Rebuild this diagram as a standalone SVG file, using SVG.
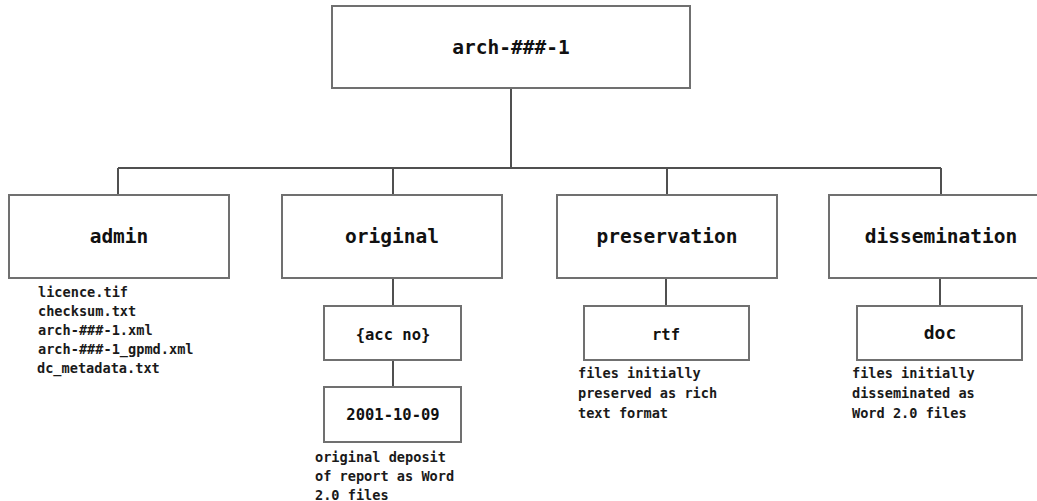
<svg xmlns="http://www.w3.org/2000/svg" width="1037" height="501" viewBox="0 0 1037 501">
  <style>
    .box { fill: #ffffff; stroke: #707070; stroke-width: 2; }
    .wire { stroke: #505050; stroke-width: 2; fill: none; }
    .title { font-family: "DejaVu Sans Mono", "Liberation Mono", monospace; font-weight: bold; font-size: 19.5px; fill: #111; text-anchor: middle; }
    .sub { font-family: "DejaVu Sans Mono", "Liberation Mono", monospace; font-weight: bold; font-size: 15.5px; fill: #111; text-anchor: middle; }
    .note { font-family: "DejaVu Sans Mono", "Liberation Mono", monospace; font-weight: bold; font-size: 13.6px; fill: #1a1a1a; }
  </style>

  <!-- connectors -->
  <g id="connectors">
    <line class="wire" x1="511" y1="88" x2="511" y2="168"/>
    <line class="wire" x1="118" y1="168" x2="941" y2="168"/>
    <line class="wire" x1="118" y1="168" x2="118" y2="195"/>
    <line class="wire" x1="393" y1="168" x2="393" y2="195"/>
    <line class="wire" x1="667" y1="168" x2="667" y2="195"/>
    <line class="wire" x1="941" y1="168" x2="941" y2="195"/>
    <line class="wire" x1="393" y1="278" x2="393" y2="306"/>
    <line class="wire" x1="393" y1="360" x2="393" y2="387"/>
    <line class="wire" x1="666" y1="278" x2="666" y2="306"/>
    <line class="wire" x1="940" y1="278" x2="940" y2="306"/>
  </g>

  <!-- root -->
  <g id="root">
    <rect class="box" x="332" y="6" width="358" height="82"/>
    <text class="title" x="511" y="54">arch-###-1</text>
  </g>

  <!-- admin -->
  <g id="admin">
    <rect class="box" x="9" y="195" width="220" height="83"/>
    <text class="title" x="119" y="243">admin</text>
    <text class="note" x="38" y="297">licence.tif</text>
    <text class="note" x="38" y="316">checksum.txt</text>
    <text class="note" x="38" y="335">arch-###-1.xml</text>
    <text class="note" x="38" y="354">arch-###-1_gpmd.xml</text>
    <text class="note" x="37" y="373">dc_metadata.txt</text>
  </g>

  <!-- original -->
  <g id="original">
    <rect class="box" x="282" y="195" width="220" height="83"/>
    <text class="title" x="392" y="243">original</text>
  </g>
  <g id="acc-no">
    <rect class="box" x="324" y="306" width="137" height="54"/>
    <text class="sub" x="393" y="340">{acc no}</text>
  </g>
  <g id="date">
    <rect class="box" x="324" y="387" width="137" height="55"/>
    <text class="sub" x="393" y="420">2001-10-09</text>
    <text class="note" x="315" y="462">original deposit</text>
    <text class="note" x="315" y="481">of report as Word</text>
    <text class="note" x="315" y="500">2.0 files</text>
  </g>

  <!-- preservation -->
  <g id="preservation">
    <rect class="box" x="557" y="195" width="220" height="83"/>
    <text class="title" x="667" y="243">preservation</text>
  </g>
  <g id="rtf">
    <rect class="box" x="584" y="306" width="165" height="54"/>
    <text class="sub" x="666" y="340">rtf</text>
    <text class="note" x="578" y="378">files initially</text>
    <text class="note" x="578" y="398">preserved as rich</text>
    <text class="note" x="578" y="418">text format</text>
  </g>

  <!-- dissemination -->
  <g id="dissemination">
    <rect class="box" x="829" y="195" width="224" height="83"/>
    <text class="title" x="941" y="243">dissemination</text>
  </g>
  <g id="doc">
    <rect class="box" x="857" y="306" width="165" height="54"/>
    <text class="sub" x="940" y="339" style="font-size:18px">doc</text>
    <text class="note" x="852" y="378">files initially</text>
    <text class="note" x="852" y="398">disseminated as</text>
    <text class="note" x="852" y="418">Word 2.0 files</text>
  </g>
</svg>
